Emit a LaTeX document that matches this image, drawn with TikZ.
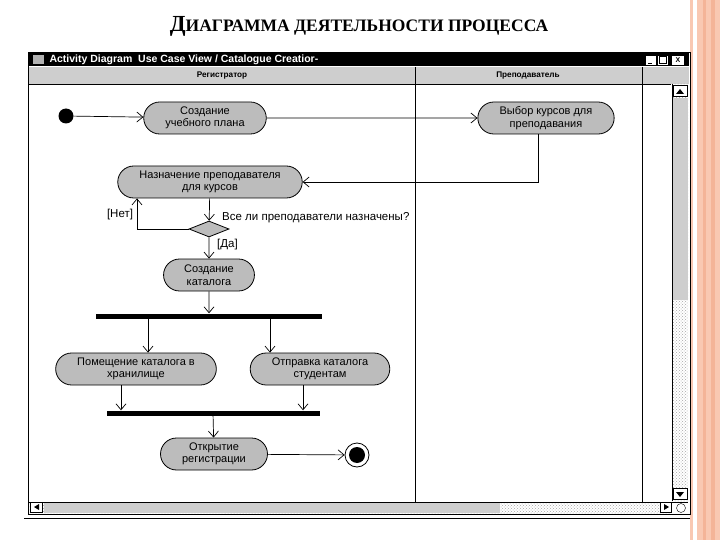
\documentclass[tikz,border=0pt]{standalone}
\usepackage{fontspec}
\setmainfont{Liberation Serif}
\setsansfont{Liberation Sans}
\usetikzlibrary{shapes.misc,shapes.geometric,arrows.meta,patterns}

\definecolor{salmon}{RGB}{249,200,178}
\definecolor{salmondk}{RGB}{244,180,152}
\definecolor{actfill}{RGB}{188,188,188}
\definecolor{headfill}{RGB}{206,206,206}

\tikzset{
  >={Straight Barb[length=6pt,width=10pt,line width=0.7pt]},
  activity/.style={rounded rectangle, draw, thick, fill=actfill, align=center,
    font=\sffamily\fontsize{11}{12.5}\selectfont, inner xsep=17pt, inner ysep=3pt,
    minimum height=32pt},
  decision/.style={diamond, draw, thick, fill=actfill, aspect=2.5, inner sep=0pt,
    minimum width=40pt, minimum height=16pt},
  bar/.style={fill=black, inner sep=0pt, minimum height=5pt},
  flow/.style={->, line width=0.7pt},
  guard/.style={font=\sffamily\fontsize{11.5}{13}\selectfont, inner sep=1pt},
  lanename/.style={font=\sffamily\bfseries\fontsize{8.2}{9}\selectfont},
  winbtn/.style={draw, fill=white, inner sep=0pt, minimum width=11pt, minimum height=10pt},
}

\begin{document}
\begin{tikzpicture}[x=1pt,y=-1pt]
\useasboundingbox (0,0) rectangle (720,540);
\fill[white] (0,0) rectangle (720,540);

% slide border on the right
\fill[salmon] (690,0) rectangle (693,540);
\fill[salmon] (697,0) rectangle (720,540);
\fill[salmondk] (703,0) rectangle (706,540);
\fill[salmondk] (711,0) rectangle (715,540);

% title
\node[font=\bfseries] (title) at (359,26) {\fontsize{23}{24}\selectfont Д\fontsize{17.5}{19}\selectfont ИАГРАММА ДЕЯТЕЛЬНОСТИ ПРОЦЕССА};

% window
\fill[white] (28,52) rectangle (690,514);
\fill[black] (29,53) rectangle (689,66);
\fill[gray!60] (33,55) rectangle (44,64);
\node[anchor=west, text=white, font=\sffamily\bfseries\fontsize{10.5}{11}\selectfont] (wintitle) at (46,60) {Activity Diagram~ Use Case View / Catalogue Creatior-};
\node[winbtn] (minbtn) at (651,60) {};
\draw[thick] (648,63) -- (652,63);
\node[winbtn] (maxbtn) at (663,60) {};
\draw (659.5,56.5) rectangle (666.5,63.5);
\node[winbtn, minimum width=13pt] (closebtn) at (678,60) {\sffamily\bfseries\scriptsize X};
\fill[headfill] (29,67) rectangle (689,84);
\draw (29,84) -- (671,84);
\node[lanename] (lane1) at (222,76) {Регистратор};
\node[lanename] (lane2) at (528,76) {Преподаватель};
\draw (415,67) -- (415,502);
\draw (642,67) -- (642,502);

% scroll bars
\fill[pattern=crosshatch dots, pattern color=gray!70] (672,84) rectangle (688,501);
\fill[headfill] (672,98) rectangle (688,300);
\draw (672,84) -- (672,501);
\node[winbtn, minimum width=14pt, minimum height=11pt] (upbtn) at (680,91) {};
\fill (676,94) -- (684,94) -- (680,89) -- cycle;
\node[winbtn, minimum width=14pt, minimum height=11pt] (downbtn) at (680,494) {};
\fill (676,492) -- (684,492) -- (680,497) -- cycle;
\fill[pattern=crosshatch dots, pattern color=gray!70] (29,502) rectangle (671,513);
\fill[headfill] (44,502) rectangle (500,513);
\draw (29,502) -- (688,502);
\node[winbtn, minimum width=12pt, minimum height=10pt] (leftbtn) at (36,507) {};
\fill (39,504) -- (39,510) -- (34,507) -- cycle;
\node[winbtn, minimum width=11pt, minimum height=10pt] (rightbtn) at (666,507) {};
\fill (664,504) -- (664,510) -- (669,507) -- cycle;
\draw (681,508) circle (4.5pt);
\draw[thick] (28,52) rectangle (690,514);
\draw (24,518) -- (690,518);

% activities
\node[circle, fill=black, minimum size=15pt, inner sep=0pt] (start) at (66,116) {};
\node[activity] (plan) at (205,118) {Создание\\учебного плана};
\node[activity] (choose) at (546,118) {Выбор курсов для\\преподавания};
\node[activity] (assign) at (210,182) {Назначение преподавателя\\для курсов};
\node[decision] (check) at (209,229) {};
\node[activity] (catalog) at (209,275) {Создание\\каталога};
\node[bar, minimum width=226pt] (fork) at (209,316) {};
\node[activity] (store) at (136,369) {Помещение каталога в\\хранилище};
\node[activity] (send) at (320,369) {Отправка каталога\\студентам};
\node[bar, minimum width=213pt] (join) at (213,413) {};
\node[activity] (open) at (214,454) {Открытие\\регистрации};
\node[circle, draw, thick, fill=white, minimum size=24pt, inner sep=0pt] (finish) at (357,455) {};
\node[circle, fill=black, minimum size=16pt, inner sep=0pt] (finishdot) at (finish) {};

% guards
\node[guard, anchor=west] (question) at (221,218) {Все ли преподаватели назначены?};
\node[guard] (no) at (120,215) {[Нет]};
\node[guard, anchor=west] (yes) at (216,245) {[Да]};

% transitions
\draw[flow] (start) -- (plan);
\draw[flow] (plan) -- (choose);
\draw[flow] ([xshift=-8pt]choose.south) |- (assign);
\draw[flow] (assign) -- (check);
\draw[flow] (check.west) -| ([xshift=-73pt]assign.south);
\draw[flow] (check) -- (catalog);
\draw[flow] (catalog) -- (fork);
\draw[flow] ([xshift=12pt]store.north |- fork.south) -- ([xshift=12pt]store.north);
\draw[flow] ([xshift=-50pt]send.north |- fork.south) -- ([xshift=-50pt]send.north);
\draw[flow] ([xshift=-15pt]store.south) -- ([xshift=-15pt]store.south |- join.north);
\draw[flow] ([xshift=-17pt]send.south) -- ([xshift=-17pt]send.south |- join.north);
\draw[flow] (join) -- (open);
\draw[flow] (open) -- (finish);
\end{tikzpicture}
\end{document}
